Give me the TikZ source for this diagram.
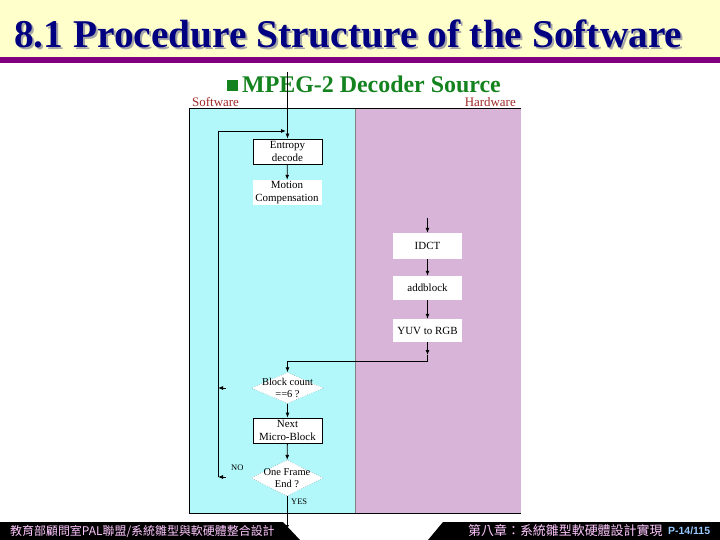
\documentclass[tikz,border=0pt]{standalone}
\usepackage{fontspec}
\setmainfont{Liberation Serif}
\newfontfamily\cjk{Noto Sans CJK TC}
\newfontfamily\pagefont{Liberation Sans}
\usetikzlibrary{shapes.geometric,arrows.meta,positioning,calc}

\definecolor{titleblue}{RGB}{0,0,128}
\definecolor{slidebg}{RGB}{255,255,204}
\definecolor{barpurple}{RGB}{128,0,128}
\definecolor{subgreen}{RGB}{20,130,30}
\definecolor{labelred}{RGB}{160,40,40}
\definecolor{swcyan}{RGB}{178,248,250}
\definecolor{hwpurple}{RGB}{216,180,216}
\definecolor{footpink}{RGB}{255,200,255}
\definecolor{footblue}{RGB}{150,200,255}

\begin{document}
\begin{tikzpicture}[x=1bp, y=-1bp,
    title/.style={font=\fontsize{39.5}{42}\selectfont\bfseries, inner sep=0pt, anchor=base west},
    block/.style={rectangle, fill=white, minimum width=69bp, minimum height=25bp, inner sep=1bp, align=center, font=\fontsize{11}{12.5}\selectfont},
    framed/.style={block, draw=black, line width=0.8bp},
    decision/.style={diamond, fill=white, draw=black!60, dotted, minimum width=72bp, minimum height=32bp, inner sep=0pt},
    cond/.style={font=\fontsize{10.5}{12}\selectfont, align=center, inner sep=0pt},
    flow/.style={-{Latex[length=5bp,width=4bp]}, line width=0.8bp},
    side/.style={font=\fontsize{13}{15}\selectfont, text=labelred, inner sep=0pt, anchor=base west},
    tag/.style={font=\fontsize{8.5}{9}\selectfont, inner sep=0pt, anchor=west},
    foot/.style={font=\cjk\fontsize{12}{13}\selectfont, text=footpink, inner sep=0pt, anchor=west},
]
\useasboundingbox (0,0) rectangle (720,540);

% Title band
\fill[slidebg] (0,0) rectangle (720,57);
\fill[barpurple] (0,57) rectangle (720,63);
\node[title, text=black!35] (titleshadow) at (16,50) {8.1 Procedure Structure of the Software};
\node[title, text=titleblue] (title) at (14,48) {8.1 Procedure Structure of the Software};

% Subtitle
\node[fill=subgreen, minimum size=11bp, inner sep=0pt] (bullet) at (232,86) {};
\node[font=\fontsize{24}{28}\selectfont\bfseries, text=subgreen, anchor=base west, inner sep=0pt] (subtitle) at (242,93) {MPEG-2 Decoder Source};

% Software / hardware panels
\fill[swcyan] (189,109) rectangle (355,513);
\fill[hwpurple] (355,109) rectangle (521,513);
\draw[line width=1bp] (521,109) -- (189,109) -- (189,513) -- (521,513);
\draw[black!50, line width=0.8bp] (355,109) -- (355,513);
\node[side] (swlabel) at (192,107) {Software};
\node[side, anchor=base east] (hwlabel) at (516,107) {Hardware};

% Software blocks
\node[framed] (entropy) at (287.5,151.5) {Entropy\\decode};
\node[block] (motion) at (287,192.5) {Motion\\Compensation};

% Hardware blocks
\node[block, minimum height=26bp] (idct) at (427.5,246) {IDCT};
\node[block, minimum height=24bp] (addblock) at (427.5,288) {addblock};
\node[block, minimum height=23bp] (yuv) at (427.5,330.5) {YUV to RGB};

% Loop control
\node[decision, minimum height=31bp, label={[cond]center:{Block count\\==6 ?}}] (blockcount) at (287.5,388) {};
\node[framed] (nextmb) at (287.5,430.5) {Next\\Micro-Block};
\node[decision, minimum height=36bp, label={[cond]center:{One Frame\\End ?}}] (frameend) at (287,478) {};
\node[tag] (nolabel) at (231,468) {NO};
\node[tag] (yeslabel) at (291,502) {YES};

% Connector ends
\coordinate (start) at (287.5,72);
\coordinate (loopjoin) at (286,131);
\coordinate (loopbot) at (218,477);
\coordinate (hwin) at (427.5,218);
\coordinate (hwout) at (427.5,355);
\coordinate (hwturn) at (427.5,361);
\coordinate (backcnt) at (226,388);
\coordinate (backfrm) at (226,477);
\coordinate (exit) at (287,530);

% Footer
\fill[black] (0,522) -- (283,522) -- (300,540) -- (0,540) -- cycle;
\fill[black] (443,522) -- (720,522) -- (720,540) -- (428,540) -- cycle;
\node[foot] (footleft) at (10,531) {教育部顧問室PAL聯盟/系統雛型與軟硬體整合設計};
\node[foot, font=\cjk\fontsize{13}{14}\selectfont] (footright) at (468,531) {第八章：系統雛型軟硬體設計實現};
\node[font=\pagefont\bfseries\fontsize{10.5}{12}\selectfont, text=footblue, anchor=west, inner sep=0pt] (pagenum) at (668,531) {P-14/115};

\draw[flow] (start) -- (entropy);
\draw[flow] (loopbot) |- (loopjoin);
\draw[flow] (entropy) -- (motion);
\draw[flow] (hwin) -- (idct);
\draw[flow] (idct) -- (addblock);
\draw[flow] (addblock) -- (yuv);
\draw[flow] (yuv) -- (hwout);
\draw[flow] (hwout) -- (hwturn) -| (blockcount.north);
\draw[flow] (blockcount) -- (nextmb);
\draw[flow] (nextmb) -- (frameend);
\draw[flow] (frameend) -- (exit);
\draw[flow] (backcnt) -- (backcnt -| loopbot);
\draw[flow] (backfrm) -- (loopbot);

\end{tikzpicture}
\end{document}
